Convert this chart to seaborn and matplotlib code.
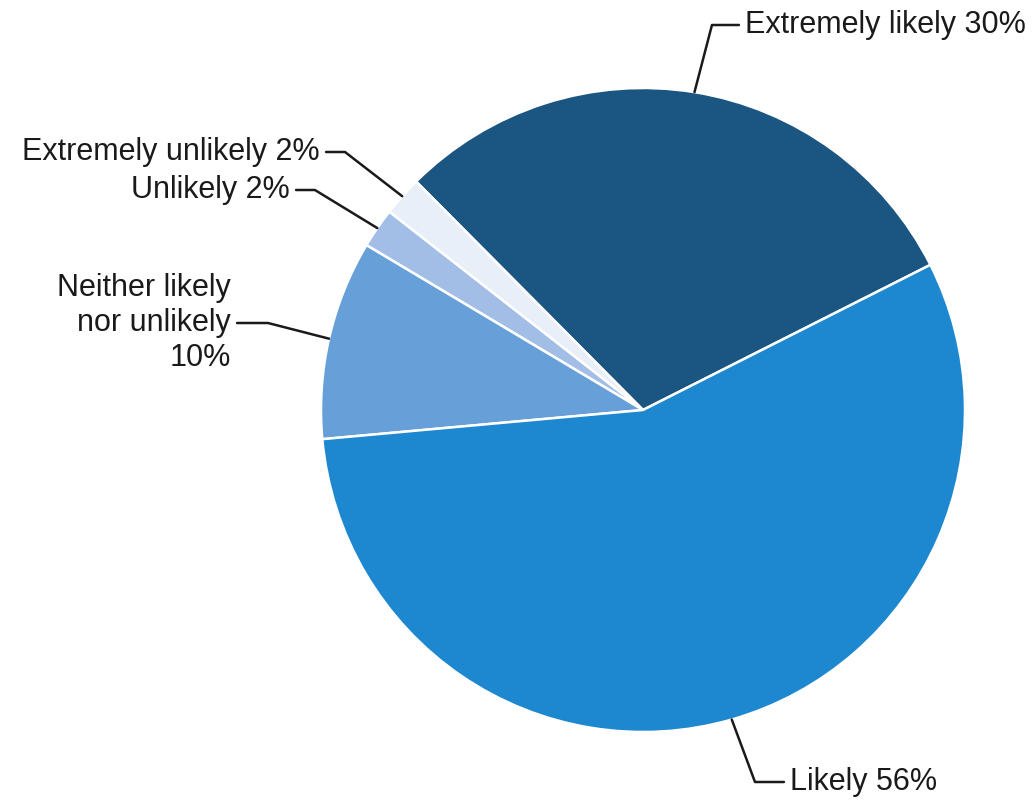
import numpy as np
import matplotlib
matplotlib.use("Agg")
import matplotlib.pyplot as plt
import seaborn as sns

# Survey answers, in the order drawn counter-clockwise from the start angle
categories = ["Extremely likely", "Extremely unlikely", "Unlikely",
              "Neither likely\nnor unlikely", "Likely"]
shares = [30, 2, 2, 10, 56]
colors = ["#1b5581", "#e9eff9", "#a3bee6", "#67a0d9", "#1d88d0"]

sns.set_theme(style="white")
plt.rcParams["font.family"] = ["Liberation Sans", "DejaVu Sans"]

fig = plt.figure(figsize=(10.34, 8), dpi=100)
ax = fig.add_axes([0, 0, 1, 1])

cx, cy, r = 643, 390, 322
wedges, _ = ax.pie(shares, colors=colors, startangle=26.8, counterclock=True,
                   center=(cx, cy), radius=r, frame=True,
                   wedgeprops=dict(edgecolor="white", linewidth=1.8))
ax.set_xlim(0, 1034)
ax.set_ylim(0, 800)
ax.set_aspect("equal")
ax.axis("off")

# label layout: (text anchor, horizontal alignment, corner x of the leader)
layout = [
    ((745, 775), "left", 712),
    ((320, 648), "right", 345),
    ((290, 610), "right", 315),
    ((231, 477), "right", 268),
    ((790, 18), "left", 755),
]

for w, cat, val, (pos, ha, corner_x) in zip(wedges, categories, shares, layout):
    mid = np.deg2rad((w.theta1 + w.theta2) / 2)
    bx = w.center[0] + w.r * np.cos(mid)
    by = w.center[1] + w.r * np.sin(mid)
    if "\n" in cat:
        label = cat + f"\n{val}%"
    else:
        label = f"{cat} {val}%"
    angle_b = np.degrees(np.arctan2(pos[1] - by, corner_x - bx))
    ax.annotate(label, xy=(bx, by), xytext=pos, ha=ha, va="center",
                fontsize=22, color="#1a1a1a", linespacing=1.2,
                arrowprops=dict(arrowstyle="-", color="#1a1a1a", lw=1.8,
                                shrinkA=2, shrinkB=0,
                                connectionstyle=f"angle,angleA=0,angleB={angle_b:.1f}"))

fig.savefig("out.png", dpi=100, facecolor="white")
